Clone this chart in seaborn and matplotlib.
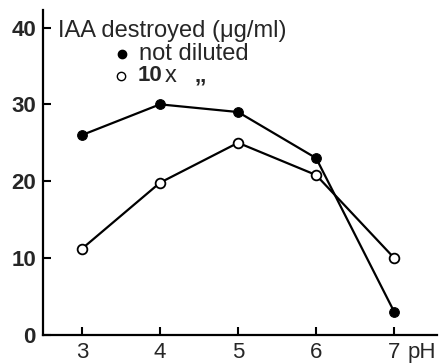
import pandas as pd
import seaborn as sns
import matplotlib.pyplot as plt
import matplotlib.transforms as mtransforms

# Values
ph = [3, 4, 5, 6, 7]
not_diluted = [26, 30, 29, 23, 3]
diluted_10x = [11.2, 19.8, 25, 20.8, 10]
y_ticks = [0, 10, 20, 30, 40]

data = pd.DataFrame({'pH': ph, 'not diluted': not_diluted, '10x': diluted_10x})

sns.set_style('ticks')
plt.rcParams['font.family'] = ['Liberation Sans', 'DejaVu Sans']

fig = plt.figure(figsize=(4.42, 3.64), dpi=100)
ax = fig.add_axes([0.097, 0.08, 0.892, 0.893])

sns.lineplot(x='pH', y='not diluted', data=data, ax=ax, color='black', lw=1.6,
             marker='o', markersize=7, markerfacecolor='black', markeredgecolor='black',
             clip_on=False, zorder=3)
sns.lineplot(x='pH', y='10x', data=data, ax=ax, color='black', lw=1.6,
             marker='o', markersize=7, markerfacecolor='white', markeredgecolor='black',
             markeredgewidth=1.3, clip_on=False, zorder=4)

ax.set_xlim(2.5, 7.55)
ax.set_ylim(0, 42.3)
ax.set_xticks(ph)
ax.set_yticks(y_ticks)
ax.set_xticklabels([str(v) for v in ph], fontsize=16)
ax.set_yticklabels([str(v) for v in y_ticks], fontsize=16, fontweight='bold')
ax.tick_params(axis='both', direction='in', length=6, width=1.5, color='black')
ax.tick_params(axis='x', pad=5)
ax.tick_params(axis='y', pad=5)
ax.set_xlabel('')
ax.set_ylabel('')
sns.despine(ax=ax)
for side in ('left', 'bottom'):
    ax.spines[side].set_linewidth(1.6)
    ax.spines[side].set_color('black')

# "pH" label next to the last tick
trans = mtransforms.blended_transform_factory(ax.transData, ax.transAxes)
ax.text(7.17, -0.055, 'pH', transform=trans, fontsize=16, va='center', ha='left')

# Hand-drawn legend
ax.text(0.038, 0.935, 'IAA destroyed (\u03bcg/ml)', transform=ax.transAxes,
        fontsize=17, va='center', ha='left')
ax.plot([0.2], [0.864], transform=ax.transAxes, marker='o', color='black',
        markersize=6, clip_on=False)
ax.text(0.245, 0.864, 'not diluted', transform=ax.transAxes, fontsize=17,
        va='center', ha='left')
ax.plot([0.198], [0.797], transform=ax.transAxes, marker='o', markerfacecolor='white',
        markeredgecolor='black', markersize=6, clip_on=False)
ax.text(0.24, 0.797, '10', transform=ax.transAxes, fontsize=16, fontweight='bold',
        va='center', ha='left')
ax.text(0.31, 0.797, 'x', transform=ax.transAxes, fontsize=17,
        va='center', ha='left')
ax.text(0.385, 0.797, ',,', transform=ax.transAxes, fontsize=16, fontweight='bold',
        va='center', ha='left')

fig.savefig('out.png', dpi=100)
